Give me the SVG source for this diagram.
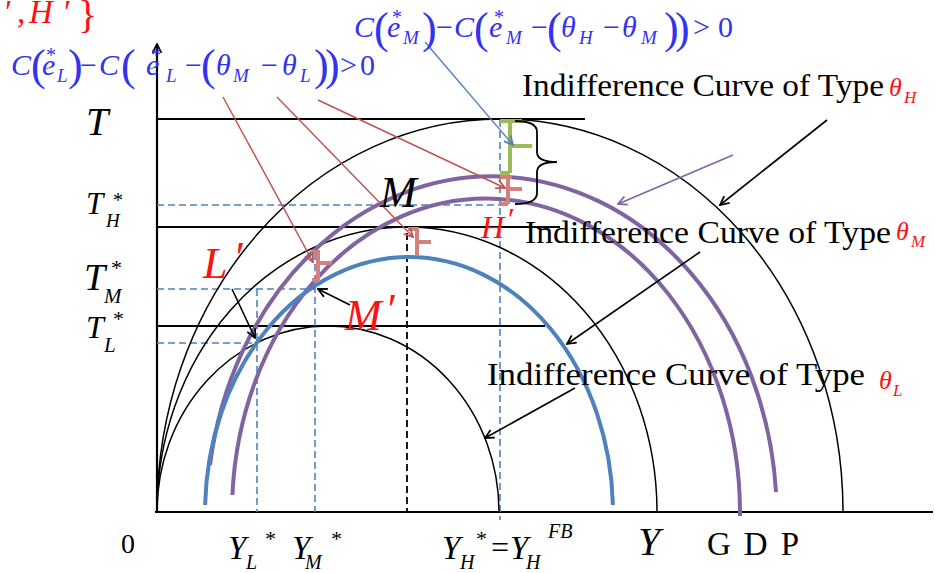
<svg xmlns="http://www.w3.org/2000/svg" width="935" height="573" viewBox="0 0 935 573">
<defs>
<marker id="ak" viewBox="0 0 10 10" refX="9" refY="5" markerWidth="11" markerHeight="11" markerUnits="userSpaceOnUse" orient="auto"><path d="M1,1 L9,5 L1,9" fill="none" stroke="#000" stroke-width="1.6"/></marker>
<marker id="ar" viewBox="0 0 10 10" refX="9" refY="5" markerWidth="11" markerHeight="11" markerUnits="userSpaceOnUse" orient="auto"><path d="M1,1 L9,5 L1,9" fill="none" stroke="#c0504d" stroke-width="1.6"/></marker>
<marker id="ab" viewBox="0 0 10 10" refX="9" refY="5" markerWidth="11" markerHeight="11" markerUnits="userSpaceOnUse" orient="auto"><path d="M1,1 L9,5 L1,9" fill="none" stroke="#4f81bd" stroke-width="1.6"/></marker>
<marker id="ap" viewBox="0 0 10 10" refX="9" refY="5" markerWidth="11" markerHeight="11" markerUnits="userSpaceOnUse" orient="auto"><path d="M1,1 L9,5 L1,9" fill="none" stroke="#8064a2" stroke-width="1.6"/></marker>
</defs>
<style>
.ax{stroke:#000;stroke-width:2.2;fill:none}
.hl{stroke:#000;stroke-width:1.8;fill:none}
.dsb{stroke:#4f81bd;stroke-width:1.6;stroke-dasharray:7 4;fill:none}
.dsk{stroke:#000;stroke-width:1.8;stroke-dasharray:7 4;fill:none}
.arc{stroke:#000;stroke-width:1.5;fill:none}
.blu{stroke:#4f81bd;stroke-width:4;fill:none}
.pur{stroke:#8064a2;stroke-width:4;fill:none}
.grn{stroke:#9bbb59;stroke-width:4;fill:none}
.rbr{stroke:#d4807c;stroke-width:4;fill:none}
.brc{stroke:#000;stroke-width:1.8;fill:none}
.ra{stroke:#c0504d;stroke-width:1.4;fill:none;marker-end:url(#ar)}
.ba{stroke:#4f81bd;stroke-width:1.4;fill:none;marker-end:url(#ab)}
.pa{stroke:#8064a2;stroke-width:1.6;fill:none;marker-end:url(#ap)}
.ka{stroke:#000;stroke-width:1.6;fill:none;marker-end:url(#ak)}
text{font-family:"Liberation Serif","Times New Roman",serif;fill:#000}
.i{font-style:italic}
.f{fill:#3333ee;font-style:italic;font-size:30px}
.p{font-style:normal;font-size:44px}
.o{font-style:normal}
.s{font-size:19px}
.st{font-style:normal;font-size:20px}
.rd{fill:#ff1010}
.lab{font-size:32px}
</style>

<g id="axes">
<path class="ax" d="M157,513 V44" marker-end="url(#ak)"/>
<path class="ax" d="M155,512 H933"/>
</g>

<g id="guide-lines">
<path class="hl" d="M157,119 H585"/>
<path class="hl" d="M157,227 H560"/>
<path class="hl" d="M157,326 H545"/>
<path class="dsb" d="M157,205 H500"/>
<path class="dsb" d="M157,289 H315"/>
<path class="dsb" d="M157,343 H257"/>
<path class="dsb" d="M257,289 V512"/>
<path class="dsb" d="M315,253 V512"/>
<path class="dsk" d="M407,233 V512"/>
<path class="dsb" d="M500,120 V520"/>
</g>

<g id="black-arcs">
<path class="arc" d="M157,512 A343,393 0 0 1 843,512"/>
<path class="arc" d="M157,512 A250,285 0 0 1 657,512"/>
<path class="arc" d="M157,512 A171,186 0 0 1 499,512"/>
</g>

<g id="indifference-curves">
<path id="curve-H" class="pur" d="M210,465 A285,340 0 0 1 776,492"/>
<path id="curve-M" class="pur" d="M232.4,495 A254,314 0 0 1 740,512 L740,516"/>
<path id="curve-L" class="blu" d="M205.1,505 A204,256 0 0 1 612.9,505"/>
</g>

<g id="brackets">
<path class="grn" d="M500,121 H522 M510,121 V173 M500,173 H510 M510,146 H532"/>
<path class="rbr" d="M500,177 H512 M508,177 V204 M500,204 H508 M508,189 H522"/>
<path class="rbr" d="M408,229 H417 V256 M417,242 H431"/>
<path class="rbr" d="M311,252 H318 V280 H312 M318,263 H332"/>
<path class="brc" d="M515,121 Q537,121 537,132 L537,152 Q537,162 557,162 Q537,162 537,172 L537,193 Q537,204 515,204"/>
</g>

<g id="connectors">
<path class="ra" d="M223,97 L313,262"/>
<path class="ra" d="M277,97 L413,237"/>
<path class="ra" d="M318,100 L505,188"/>
<path class="ba" d="M425,42 L513,145"/>
<path class="pa" d="M733,155 L618,204"/>
<path class="ka" d="M827,120 L720,205"/>
<path class="ka" d="M700,252 L567,344"/>
<path class="ka" d="M575,388 L485,438"/>
<path class="ka" d="M350,305 L318,289"/>
<path class="ka" d="M232,289 L255,338"/>
</g>

<g id="formulas">
<text id="top-red" class="i rd" font-size="33"><tspan x="3" y="23">′</tspan><tspan x="17" y="23">,</tspan><tspan x="29" y="23">H</tspan><tspan x="62" y="23">′</tspan><tspan x="78" y="28" class="o" font-size="40">}</tspan></text>
<text id="formula-L" class="f">
<tspan x="11" y="75">C</tspan><tspan x="31" y="80" class="p">(</tspan><tspan x="42" y="75">e</tspan><tspan x="46" y="62" class="st">*</tspan><tspan x="57" y="82" class="s">L</tspan><tspan x="68" y="80" class="p">)</tspan><tspan x="80" y="75" class="o">−</tspan><tspan x="99" y="75">C</tspan><tspan x="121" y="80" class="p">(</tspan><tspan x="146" y="75">e</tspan><tspan x="151" y="62" class="st">*</tspan><tspan x="166" y="82" class="s">L</tspan><tspan x="185" y="75" class="o">−</tspan><tspan x="201" y="80" class="p">(</tspan><tspan x="216" y="75">θ</tspan><tspan x="233" y="82" class="s">M</tspan><tspan x="261" y="75" class="o">−</tspan><tspan x="282" y="75">θ</tspan><tspan x="300" y="82" class="s">L</tspan><tspan x="314" y="80" class="p">)</tspan><tspan x="325" y="80" class="p">)</tspan><tspan x="340" y="75" class="o">&gt;</tspan><tspan x="360" y="75" class="o">0</tspan>
</text>
<text id="formula-M" class="f">
<tspan x="354" y="37">C</tspan><tspan x="374" y="43" class="p">(</tspan><tspan x="387" y="37">e</tspan><tspan x="392" y="24" class="st">*</tspan><tspan x="403" y="44" class="s">M</tspan><tspan x="422" y="43" class="p">)</tspan><tspan x="436" y="37" class="o">−</tspan><tspan x="454" y="37">C</tspan><tspan x="474" y="43" class="p">(</tspan><tspan x="489" y="37">e</tspan><tspan x="494" y="24" class="st">*</tspan><tspan x="506" y="44" class="s">M</tspan><tspan x="531" y="37" class="o">−</tspan><tspan x="547" y="43" class="p">(</tspan><tspan x="561" y="37">θ</tspan><tspan x="579" y="44" class="s">H</tspan><tspan x="603" y="37" class="o">−</tspan><tspan x="622" y="37">θ</tspan><tspan x="641" y="44" class="s">M</tspan><tspan x="664" y="43" class="p">)</tspan><tspan x="675" y="43" class="p">)</tspan><tspan x="693" y="37" class="o">&gt;</tspan><tspan x="718" y="37" class="o">0</tspan>
</text>
</g>

<g id="axis-labels">
<text class="i" x="86" y="135" font-size="40">T</text>
<text class="i" font-size="31"><tspan x="86" y="214">T</tspan><tspan x="106" y="227" font-size="19">H</tspan><tspan x="113" y="207" class="o" font-size="20">*</tspan></text>
<text class="i" font-size="38"><tspan x="84" y="290">T</tspan><tspan x="104" y="303" font-size="21">M</tspan><tspan x="111" y="275" class="o" font-size="22">*</tspan></text>
<text class="i" font-size="32"><tspan x="86" y="338">T</tspan><tspan x="104" y="352" font-size="21">L</tspan><tspan x="113" y="326" class="o" font-size="22">*</tspan></text>
<text x="121" y="553" font-size="28">0</text>
<text class="i" font-size="33"><tspan x="228" y="559">Y</tspan><tspan x="246" y="569" font-size="20">L</tspan><tspan x="265" y="546" class="o" font-size="22">*</tspan></text>
<text class="i" font-size="33"><tspan x="292" y="559">Y</tspan><tspan x="305" y="569" font-size="20">M</tspan><tspan x="331" y="546" class="o" font-size="22">*</tspan></text>
<text class="i" font-size="33"><tspan x="442" y="559">Y</tspan><tspan x="460" y="569" font-size="20">H</tspan><tspan x="476" y="546" class="o" font-size="22">*</tspan><tspan x="491" y="558" class="o" font-size="32">=</tspan><tspan x="510" y="559">Y</tspan><tspan x="526" y="569" font-size="20">H</tspan><tspan x="548" y="538" font-size="20">FB</tspan></text>
<text class="i" x="638" y="555" font-size="40">Y</text>
<text x="707" y="555" font-size="33" letter-spacing="13">GDP</text>
</g>

<g id="point-labels">
<text class="i" x="380" y="207" font-size="44">M</text>
<text class="i rd" font-size="32"><tspan x="481" y="238">H</tspan><tspan x="506" y="230">′</tspan></text>
<text class="i rd" font-size="44"><tspan x="203" y="278">L</tspan><tspan x="233" y="272">′</tspan></text>
<text class="i rd" font-size="44"><tspan x="345" y="330">M</tspan><tspan x="385" y="324">′</tspan></text>
</g>

<g id="curve-labels">
<text class="lab"><tspan x="522" y="96" textLength="362" lengthAdjust="spacingAndGlyphs">Indifference Curve of Type</tspan><tspan x="889" y="96" class="i rd" font-size="26">θ</tspan><tspan x="904" y="103" class="i rd" font-size="17">H</tspan></text>
<text class="lab"><tspan x="525" y="243" textLength="366" lengthAdjust="spacingAndGlyphs">Indifference Curve of Type</tspan><tspan x="896" y="240" class="i rd" font-size="26">θ</tspan><tspan x="911" y="247" class="i rd" font-size="17">M</tspan></text>
<text class="lab"><tspan x="487" y="385" textLength="378" lengthAdjust="spacingAndGlyphs">Indifference Curve of Type</tspan><tspan x="879" y="389" class="i rd" font-size="26">θ</tspan><tspan x="893" y="396" class="i rd" font-size="17">L</tspan></text>
</g>
</svg>
